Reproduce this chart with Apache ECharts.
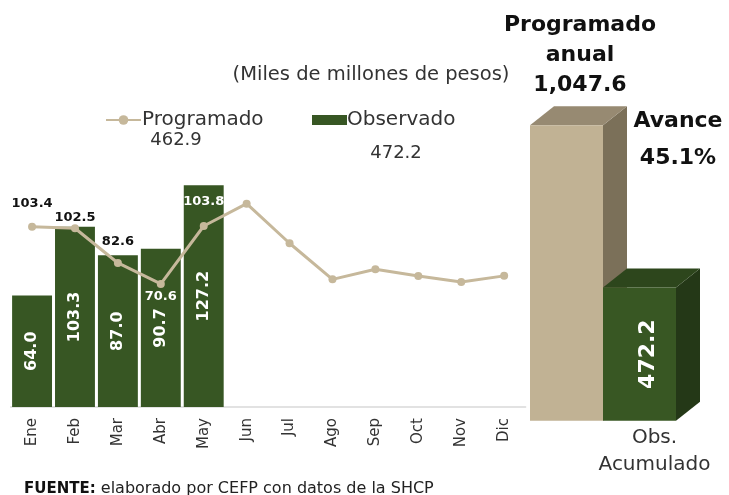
<!DOCTYPE html>
<html>
<head>
<meta charset="utf-8">
<script src="https://cdn.jsdelivr.net/npm/echarts@6/dist/echarts.min.js"></script>
<style>
html,body{margin:0;padding:0;background:#fff;}
#c{width:729px;height:495px;}
</style>
</head>
<body>
<div id="c"></div>
<script>
const months = ['Ene','Feb','Mar','Abr','May','Jun','Jul','Ago','Sep','Oct','Nov','Dic'];
const programado = [103.4,102.5,82.6,70.6,103.8,116.6,93.9,73.2,79.0,75.1,71.7,75.2];
const observado = [64.0,103.3,87.0,90.7,127.2];
const acumCats = ['Programado anual','Obs. Acumulado'];

const sum = a => a.reduce((s,v)=>s+v,0);
const progYTD = sum(programado.slice(0, observado.length));
const progAnual = sum(programado);
const obsAcum = sum(observado);
const acumulado = [progAnual, obsAcum];
const avance = obsAcum / progAnual * 100;

const FONT = 'DejaVu Sans';
const fmt1 = v => v.toLocaleString('en-US',{minimumFractionDigits:1,maximumFractionDigits:1});

const lineColor = '#c6b89b';
const green = '#375623';
const colors3d = [
  {front:'#c1b294', top:'#978a72', side:'#7b7059'},
  {front:'#385723', top:'#2d461c', side:'#243817'}
];

const lblCfg = [
  {position:'top', distance:13, color:'#111'},
  {position:'top', distance:0, color:'#111'},
  {position:'top', distance:11, color:'#111'},
  {position:'bottom', distance:2, color:'#fff'},
  {position:'top', distance:14, color:'#fff'}
];
const lineData = programado.map((v,i)=>{
  if (i < lblCfg.length) {
    return {value:v, label:{show:true, position:lblCfg[i].position, distance:lblCfg[i].distance,
      color:lblCfg[i].color, fontFamily:FONT, fontWeight:'bold', fontSize:13,
      formatter: p => fmt1(p.value)}};
  }
  return {value:v};
});

function render3d(params, api){
  const idx = api.value(0), val = api.value(1);
  const top = api.coord([idx, val]);
  const bot = api.coord([idx, 0]);
  const w = api.size([1,0])[0];
  const x0 = top[0]-w/2, x1 = top[0]+w/2;
  const dx = 24, dy = 19;
  const c = colors3d[idx];
  const children = [
    {type:'polygon', shape:{points:[[x1,top[1]],[x1+dx,top[1]-dy],[x1+dx,bot[1]-dy],[x1,bot[1]]]}, style:{fill:c.side}},
    {type:'polygon', shape:{points:[[x0,top[1]],[x0+dx,top[1]-dy],[x1+dx,top[1]-dy],[x1,top[1]]]}, style:{fill:c.top}},
    {type:'rect', shape:{x:x0, y:top[1], width:w, height:bot[1]-top[1]}, style:{fill:c.front}}
  ];
  if (idx === 1) {
    children.push({type:'text', x: top[0]+9, y:(top[1]+bot[1])/2, rotation: Math.PI/2,
      style:{text: fmt1(val), x:0, y:0, align:'center', verticalAlign:'middle', fill:'#fff',
        font:'bold 22px ' + FONT}});
  }
  return {type:'group', children};
}

const chart = echarts.init(document.getElementById('c'), null, {renderer:'canvas'});
chart.setOption({
  animation:false,
  backgroundColor:'#fff',
  textStyle:{fontFamily:FONT},
  title:[
    {text:'(Miles de millones de pesos)', left:371, top:65, textAlign:'center', padding:0,
      textStyle:{fontFamily:FONT, fontWeight:'normal', fontSize:19.5, color:'#333'}},
    {text: fmt1(progYTD), left:176, top:131, textAlign:'center', padding:0,
      textStyle:{fontFamily:FONT, fontWeight:'normal', fontSize:18, color:'#333'}},
    {text: fmt1(obsAcum), left:396, top:144, textAlign:'center', padding:0,
      textStyle:{fontFamily:FONT, fontWeight:'normal', fontSize:18, color:'#333'}},
    {text: 'Programado\nanual\n' + fmt1(progAnual), left:580, top:10, textAlign:'center', padding:0,
      textStyle:{fontFamily:FONT, fontWeight:'bold', fontSize:22, lineHeight:30, color:'#111'}},
    {text: 'Avance\n' + avance.toFixed(1) + '%', left:678, top:103, textAlign:'center', padding:0,
      textStyle:{fontFamily:FONT, fontWeight:'bold', fontSize:22, lineHeight:37, color:'#111'}},
    {text: '{b|FUENTE:} elaborado por CEFP con datos de la SHCP', left:24, top:481, padding:0,
      textStyle:{fontFamily:FONT, fontWeight:'normal', fontSize:16, color:'#222',
        rich:{b:{fontFamily:FONT, fontWeight:'bold', fontSize:15, color:'#111'}}}}
  ],
  legend:[
    {data:['Programado'], left:105, top:110, padding:0, itemWidth:35, itemHeight:12,
      textStyle:{fontFamily:FONT, fontSize:20, color:'#333', padding:[0,0,0,-4]}},
    {data:[{name:'Observado', icon:'rect'}], left:312, top:110, padding:0, itemWidth:35, itemHeight:10,
      textStyle:{fontFamily:FONT, fontSize:20, color:'#333', padding:[0,0,0,-5]}}
  ],
  grid:[
    {left:10.6, right:203.4, top:128, bottom:88},
    {left:530, right:53, top:110.5, bottom:74.3}
  ],
  xAxis:[
    {type:'category', gridIndex:0, data:months, axisTick:{show:false},
      axisLine:{lineStyle:{color:'#d9d9d9', width:1.5}},
      axisLabel:{rotate:90, margin:11, fontFamily:FONT, fontSize:15, color:'#333'}},
    {type:'category', gridIndex:1, data:acumCats, axisTick:{show:false},
      axisLine:{show:false},
      axisLabel:{interval:0, hideOverlap:false, margin:4, fontFamily:FONT, fontSize:20, lineHeight:27, color:'#333',
        padding:[0,0,0,30],
        formatter:(v,i)=> i===1 ? v.replace(' ', '\n') : ''}}
  ],
  yAxis:[
    {type:'value', gridIndex:0, min:0, max:160, show:false, splitLine:{show:false}},
    {type:'value', gridIndex:1, min:0, max:1100, show:false, splitLine:{show:false}}
  ],
  series:[
    {name:'Observado', type:'bar', xAxisIndex:0, yAxisIndex:0, data:observado,
      barCategoryGap:'7%', itemStyle:{color:green},
      label:{show:true, position:'inside', rotate:90, color:'#fff', fontFamily:FONT,
        fontWeight:'bold', fontSize:16, formatter:p=>fmt1(p.value)}},
    {name:'Programado', type:'line', xAxisIndex:0, yAxisIndex:0, data:lineData,
      symbol:'circle', symbolSize:8, z:3,
      lineStyle:{color:lineColor, width:3}, itemStyle:{color:lineColor}},
    {name:'Acumulado', type:'custom', xAxisIndex:1, yAxisIndex:1,
      data: acumulado.map((v,i)=>[i,v]), renderItem: render3d,
      encode:{x:0, y:1}}
  ]
});
</script>
</body>
</html>
